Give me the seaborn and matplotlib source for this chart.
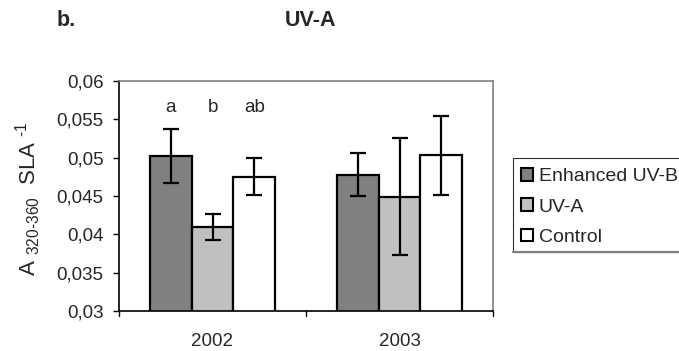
import matplotlib
matplotlib.use("Agg")
import matplotlib.pyplot as plt
import seaborn as sns
import pandas as pd
from matplotlib.patches import Patch, Rectangle
from matplotlib.lines import Line2D

years = ["2002", "2003"]
treatments = ["Enhanced UV-B", "UV-A", "Control"]
means_2002 = [0.0502, 0.0409, 0.0475]
means_2003 = [0.0478, 0.0449, 0.0503]
err_2002 = [0.0035, 0.0017, 0.0024]
err_2003 = [0.0028, 0.0076, 0.0052]
letters_2002 = ["a", "b", "ab"]
ytick_vals = [0.03, 0.035, 0.04, 0.045, 0.05, 0.055, 0.06]
ytick_labels = ["0,03", "0,035", "0,04", "0,045", "0,05", "0,055", "0,06"]
colors = ["#808080", "#C0C0C0", "#FFFFFF"]

sns.set_style("white")
plt.rcParams["font.family"] = ["Liberation Sans", "DejaVu Sans"]
plt.rcParams["mathtext.fontset"] = "custom"
plt.rcParams["mathtext.rm"] = "Liberation Sans"

df = pd.DataFrame({
    "year": [y for y in years for _ in treatments],
    "treatment": treatments * 2,
    "value": means_2002 + means_2003,
    "err": err_2002 + err_2003,
})

fig = plt.figure(figsize=(6.79, 3.51), dpi=100)
ax = fig.add_axes([119 / 679, 40 / 351, 374 / 679, 230 / 351])

sns.barplot(data=df, x="year", y="value", hue="treatment", order=years,
            hue_order=treatments, palette=colors, errorbar=None,
            width=0.67, gap=0, edgecolor="black", linewidth=1.6,
            legend=False, ax=ax)

# error bars and significance letters at the bar centres
bars = [p for p in ax.patches if p.get_height() > 0]
for i, t in enumerate(treatments):
    for j, y in enumerate(years):
        row = df[(df.year == y) & (df.treatment == t)].iloc[0]
        p = bars[i * len(years) + j]
        cx = p.get_x() + p.get_width() / 2
        ax.errorbar(cx, row.value, yerr=row.err, fmt="none", ecolor="black",
                    elinewidth=1.6, capsize=5.5, capthick=1.6, zorder=5)
        if y == "2002":
            ax.text(cx, 0.0565, letters_2002[i], ha="center", va="center",
                    fontsize=13.5)

ax.set_ylim(0.03, 0.06)
ax.set_xlim(-0.5, 1.5)
ax.set_yticks(ytick_vals)
ax.set_yticklabels(ytick_labels, fontsize=13.5)
ax.set_xticks([0, 1])
ax.set_xticklabels(years, fontsize=13.5)
ax.tick_params(axis="x", length=0, pad=16)
ax.tick_params(axis="y", direction="out", length=4, width=1, color="black",
               left=True, pad=7)
for x in [-0.5, 0.5, 1.5]:
    ax.plot([x, x], [0, -0.022], transform=ax.get_xaxis_transform(),
            color="black", lw=1, clip_on=False)
ax.set_xlabel("")
ax.set_ylabel(r"A $_{\mathregular{320\text{-}360}}$  SLA $^{\mathregular{\text{-}1}}$",
              fontsize=16, va="center", ha="center")
ax.yaxis.set_label_coords(-0.243, 0.49)

for side in ["left", "bottom"]:
    ax.spines[side].set_color("black")
    ax.spines[side].set_linewidth(1.2)
for side in ["top", "right"]:
    ax.spines[side].set_color("#808080")
    ax.spines[side].set_linewidth(1.2)

# legend box running off the right edge
fig.add_artist(Rectangle((513 / 679, 1 - 252 / 351), 200 / 679, 94 / 351,
                         transform=fig.transFigure, facecolor="white",
                         edgecolor="#303030", linewidth=0.8, clip_on=False))
fig.add_artist(Line2D([513 / 679, 1.0], [1 - 252 / 351] * 2,
                      transform=fig.transFigure, color="#808080", lw=1.6))
handles = [Patch(facecolor=c, edgecolor="black", linewidth=1.5) for c in colors]
leg = fig.legend(handles, treatments, loc="upper left",
                 bbox_to_anchor=(521 / 679, 1 - 168 / 351), fontsize=14,
                 frameon=False, handlelength=0.62, handleheight=0.62,
                 handletextpad=0.3, borderpad=0, labelspacing=0.68,
                 borderaxespad=0)

fig.text(57 / 679, 1 - 20 / 351, "b.", fontsize=15.5, fontweight="bold",
         va="center", ha="left")
fig.text(310 / 679, 1 - 20 / 351, "UV-A", fontsize=15.5, fontweight="bold",
         va="center", ha="center")

fig.savefig("out.png", dpi=100)
